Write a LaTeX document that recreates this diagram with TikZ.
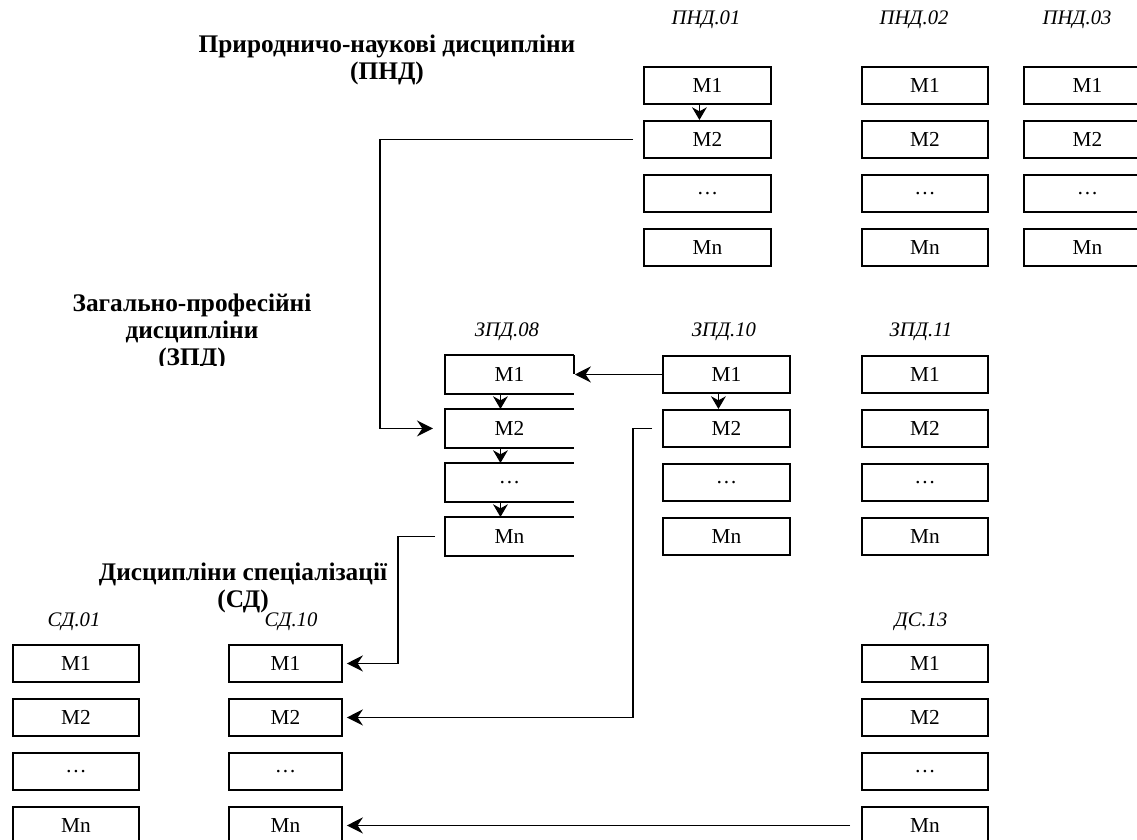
\documentclass[tikz,border=0pt]{standalone}
\usepackage{fontspec}
\setmainfont{Liberation Serif}
\usetikzlibrary{arrows.meta,calc}
\newcommand\modcolumn[5]{%
  \node[modbox=#4,#5] (#1m1) at (#2,#3) {M1};
  \node[modbox=#4,#5] (#1m2) at (#2,#3+54) {M2};
  \node[modbox=#4,#5] (#1m3) at (#2,#3+108) {\dots};
  \node[modbox=#4,#5] (#1mn) at (#2,#3+162) {Mn};
}
\begin{document}
\begin{tikzpicture}[x=0.75pt,y=-0.75pt,
  modbox/.style={draw,line width=1.4pt,minimum width=#1*0.75pt,minimum height=27.75pt,
    inner sep=0pt,anchor=north west,font=\fontsize{16}{18}\selectfont},
  openbox/.style={draw=none},
  collabel/.style={font=\fontsize{15.5}{18}\selectfont\itshape,inner sep=0pt},
  grouptitle/.style={font=\fontsize{19}{20.25}\selectfont\bfseries,align=center,inner sep=0pt},
  arr/.style={line width=1.4pt,-{Stealth[length=12pt,width=12pt,inset=4pt]}},
  shortarr/.style={line width=1.4pt,-{Stealth[length=9.5pt,width=11pt,inset=3pt]}}]
\useasboundingbox (0,0) rectangle (1137,839);

% group titles
\node[grouptitle] (tpnd) at (387,60) {Природничо-наукові дисципліни\\(ПНД)};
\begin{scope}
  \clip (0,280) rectangle (420,365);
  \node[grouptitle] (tzpd) at (192,332) {Загально-професійні\\дисципліни\\(ЗПД)};
\end{scope}
\node[grouptitle] (tsd) at (243,588) {Дисципліни спеціалізації\\(СД)};

% column labels
\node[collabel] (lp1) at (706,20) {ПНД.01};
\node[collabel] (lp2) at (914,20) {ПНД.02};
\node[collabel] (lp3) at (1077,20) {ПНД.03};
\node[collabel] (lz8) at (507,332) {ЗПД.08};
\node[collabel] (lz10) at (724,332) {ЗПД.10};
\node[collabel] (lz11) at (921,332) {ЗПД.11};
\node[collabel] (ls1) at (74,622) {СД.01};
\node[collabel] (ls10) at (291,622) {СД.10};
\node[collabel] (ld13) at (921,622) {ДС.13};

% module columns
\modcolumn{p1}{643}{66}{127}{}
\modcolumn{p2}{861}{66}{126}{}
\modcolumn{p3}{1023}{66}{127}{}
\modcolumn{z8}{445}{355}{127}{openbox}
\modcolumn{z10}{662}{355}{127}{}
\modcolumn{z11}{861}{355}{126}{}
\modcolumn{s1}{12}{644}{126}{}
\modcolumn{s10}{228}{644}{113}{}
\modcolumn{d13}{861}{644}{126}{}

% ZPD.08 boxes drawn without right side
\foreach \m in {m1,m2,m3,mn}{
  \draw[line width=1.4pt] (z8\m.north east) -- (z8\m.north west) -- (z8\m.south west) -- (z8\m.south east);
}
\draw[line width=1.4pt] (z8m1.north east) -- (z8m1.east);

% arrows inside columns
\draw[shortarr] ($(p1m1.south)+(-8,0)$) -- ($(p1m2.north)+(-8,0)$);
\draw[shortarr] ($(z8m1.south)+(-9,0)$) -- ($(z8m2.north)+(-9,0)$);
\draw[shortarr] ($(z8m2.south)+(-9,0)$) -- ($(z8m3.north)+(-9,0)$);
\draw[shortarr] ($(z8m3.south)+(-9,0)$) -- ($(z8mn.north)+(-9,0)$);
\draw[shortarr] ($(z10m1.south)+(-8,0)$) -- ($(z10m2.north)+(-8,0)$);

% connectors between columns
\coordinate (j1) at (380,300);
\coordinate (j2) at (398,600);
\coordinate (j3) at (633,600);
\draw[arr] ($(p1m2.west)+(-10,0)$) -| (j1) |- ($(z8m2.west)+(-12,0)$);
\draw[arr] (z10m1.west) -- ($(z8m1.east)+(1,0)$);
\draw[arr] ($(z8mn.west)+(-10,0)$) -| (j2) |- ($(s10m1.east)+(4,0)$);
\draw[arr] ($(z10m2.west)+(-10,0)$) -| (j3) |- ($(s10m2.east)+(4,0)$);
\draw[arr] ($(d13mn.west)+(-11,0)$) -- ($(s10mn.east)+(4,0)$);
\end{tikzpicture}
\end{document}
